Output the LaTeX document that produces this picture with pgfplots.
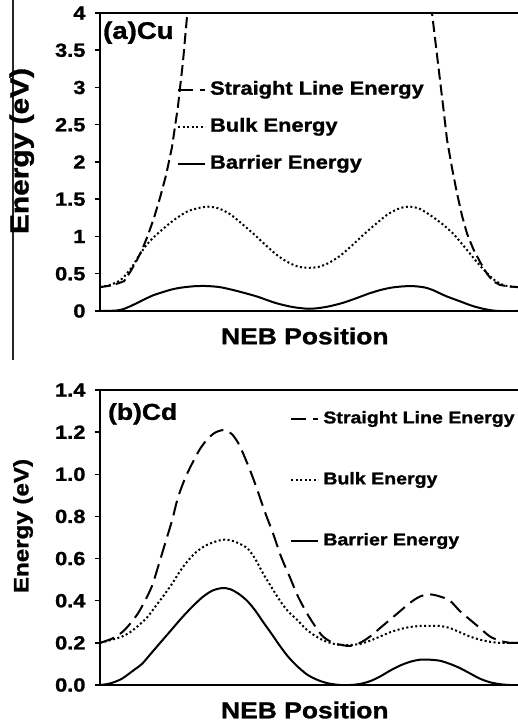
\documentclass[border=0pt]{standalone}
\usepackage{fontspec}
\setmainfont{Liberation Sans}[FakeStretch=1.15, BoldFeatures={FakeBold=1.2}]
\usepackage{pgfplots}
\pgfplotsset{compat=1.18}
\pgfplotsset{
  myax/.style={
    scale only axis, width=418pt, xmin=100, xmax=518,
    axis x line*=box, axis y line*=left,
    xtick=\empty, tick align=outside,
    major tick length=5pt,
    axis line style={line width=1.8pt},
    every tick/.style={line width=1.5pt, black},
    ticklabel style={font=\fontsize{19}{21}\selectfont\bfseries},
    yticklabel style={xshift=-6pt},
    /pgf/number format/assume math mode=true,
    legend cell align=left,
    legend image code/.code={\draw[##1] (0pt,0pt) -- (27pt,0pt);},
  },
  curve/.style={line width=2pt, black},
}
\begin{document}
\begin{tikzpicture}[x=1pt,y=1pt]
\useasboundingbox (0,0) rectangle (518,726);
\draw[line width=1.2pt, black!85] (13,726) -- (13,366);

% ---------------- (a) Cu ----------------
\begin{axis}[myax, height=298pt, at={(100pt,415pt)}, anchor=south west,
  ymin=0, ymax=4, ytick distance=0.5,
  xlabel={\bfseries NEB Position},
  xlabel style={font=\fontsize{23}{25}\selectfont, at={(axis description cs:0.49,-0.084)}, anchor=center},
  ylabel={\bfseries Energy (eV)},
  ylabel style={font=\fontsize{26}{28}\selectfont, at={(axis description cs:-0.187,0.537)}, anchor=center, rotate=0},
  legend style={draw=none, fill=none, at={(axis description cs:0.184,0.777)}, anchor=north west,
    font=\fontsize{19}{22}\selectfont\bfseries, row sep=17pt, inner sep=0pt,
    nodes={inner sep=1pt, text height=14pt, text depth=4pt},
    /tikz/every odd column/.append style={column sep=3pt}},
]
\addlegendimage{curve, dash pattern=on 15pt off 7pt}
\addlegendentry{Straight Line Energy}
\addlegendimage{curve, dash pattern=on 2pt off 2.5pt}
\addlegendentry{Bulk Energy}
\addlegendimage{curve}
\addlegendentry{Barrier Energy}
\addplot[curve, dash pattern=on 11pt off 5pt, forget plot] coordinates {
(100,0.32) (110,0.34) (118,0.37) (124,0.40) (130,0.52) (136,0.66) (142,0.82) (148,1.02)
(154,1.25) (160,1.52) (166,1.82) (172,2.2) (178,2.75) (183,3.35) (187,3.95) (192,4.6)
(309,8) (428,4.6) (432,4.0) (436,3.55) (440,3.1) (444,2.65) (447,2.3) (452,1.92) (457,1.58)
(462,1.28) (467,1.04) (473,0.84) (480,0.66) (487,0.50) (493,0.40) (500,0.35) (508,0.33) (518,0.32)};
\addplot[curve, dash pattern=on 2pt off 2.5pt, smooth, forget plot] coordinates {
(100,0.32) (110,0.35) (120,0.41) (126,0.49) (132,0.59) (138,0.72) (145,0.86) (153,0.98)
(162,1.09) (170,1.18) (178,1.26) (188,1.34) (198,1.38) (207,1.40) (218,1.38) (230,1.30)
(242,1.17) (254,1.03) (266,0.88) (278,0.74) (290,0.64) (300,0.59) (309,0.58) (318,0.59)
(328,0.64) (340,0.74) (352,0.88) (364,1.03) (376,1.17) (388,1.30) (400,1.38) (410,1.40)
(420,1.37) (433,1.26) (443,1.16) (453,1.04) (462,0.90) (470,0.77) (478,0.64) (487,0.51)
(495,0.41) (503,0.35) (510,0.33) (518,0.32)};
\addplot[curve, smooth, forget plot] coordinates {
(100,0) (115,0.005) (122,0.02) (128,0.05) (136,0.10) (145,0.16) (153,0.21) (162,0.25)
(172,0.29) (182,0.315) (195,0.333) (207,0.335) (220,0.32) (232,0.285) (245,0.24) (258,0.19)
(275,0.11) (290,0.06) (301,0.038) (309,0.03) (318,0.038) (330,0.065) (343,0.11) (356,0.17)
(368,0.23) (380,0.28) (392,0.315) (405,0.332) (415,0.332) (425,0.315) (433,0.28) (446,0.20)
(460,0.13) (472,0.07) (483,0.03) (492,0.008) (500,0) (518,0)};
\node[anchor=west, inner sep=0pt, font=\fontsize{24}{26}\selectfont\bfseries] at (axis description cs:0.007,0.934) {(a)Cu};
\end{axis}

% ---------------- (b) Cd ----------------
\begin{axis}[myax, height=295pt, at={(100pt,41pt)}, anchor=south west,
  ymin=0, ymax=1.4, ytick distance=0.2,
  yticklabel style={/pgf/number format/.cd, fixed, fixed zerofill, precision=1},
  xlabel={\bfseries NEB Position},
  xlabel style={font=\fontsize{23}{25}\selectfont, at={(axis description cs:0.49,-0.085)}, anchor=center},
  ylabel={\bfseries Energy (eV)},
  ylabel style={font=\fontsize{21}{23}\selectfont, at={(axis description cs:-0.184,0.539)}, anchor=center, rotate=0},
  legend style={draw=none, fill=none, at={(axis description cs:0.455,0.935)}, anchor=north west,
    font=\fontsize{17}{20}\selectfont\bfseries, row sep=42pt, inner sep=0pt,
    nodes={inner sep=1pt, text height=13pt, text depth=4pt},
    /tikz/every odd column/.append style={column sep=3pt}},
]
\addlegendimage{curve, dash pattern=on 15pt off 7pt}
\addlegendentry{Straight Line Energy}
\addlegendimage{curve, dash pattern=on 2pt off 2.5pt}
\addlegendentry{Bulk Energy}
\addlegendimage{curve}
\addlegendentry{Barrier Energy}
\addplot[curve, dash pattern=on 15pt off 7pt, smooth, forget plot] coordinates {
(100,0.20) (112,0.22) (122,0.25) (130,0.29) (138,0.34) (145,0.40) (152,0.47) (158,0.56)
(165,0.67) (172,0.78) (178,0.89) (185,0.98) (192,1.05) (200,1.12) (208,1.17) (216,1.20)
(225,1.21) (232,1.19) (238,1.15) (243,1.10) (250,1.02) (257,0.93) (265,0.82) (273,0.72)
(281,0.61) (290,0.51) (298,0.42) (307,0.34) (315,0.28) (323,0.23) (333,0.20) (342,0.19)
(350,0.185) (360,0.20) (370,0.23) (380,0.27) (390,0.31) (400,0.35) (410,0.39) (420,0.42)
(430,0.43) (440,0.42) (450,0.40) (460,0.35) (470,0.31) (480,0.27) (490,0.23) (500,0.21)
(510,0.20) (518,0.20)};
\addplot[curve, dash pattern=on 2pt off 2.5pt, smooth, forget plot] coordinates {
(100,0.20) (112,0.215) (122,0.23) (130,0.25) (138,0.28) (147,0.32) (155,0.37) (163,0.42)
(172,0.48) (180,0.54) (188,0.59) (196,0.63) (205,0.66) (215,0.68) (225,0.69) (235,0.68)
(247,0.65) (255,0.60) (263,0.53) (272,0.46) (280,0.40) (288,0.35) (297,0.31) (305,0.27)
(313,0.24) (322,0.215) (330,0.20) (340,0.19) (350,0.19) (360,0.195) (370,0.21) (380,0.23)
(390,0.25) (400,0.265) (410,0.275) (420,0.28) (430,0.28) (440,0.28) (450,0.27) (460,0.25)
(470,0.23) (480,0.215) (490,0.205) (500,0.20) (518,0.20)};
\addplot[curve, smooth, forget plot] coordinates {
(100,0) (108,0.005) (115,0.015) (122,0.03) (128,0.05) (135,0.075) (142,0.10) (152,0.155)
(162,0.21) (172,0.265) (182,0.32) (192,0.37) (202,0.415) (212,0.447) (222,0.46) (230,0.455)
(238,0.435) (247,0.40) (255,0.355) (263,0.30) (272,0.24) (280,0.185) (288,0.135) (297,0.09)
(307,0.05) (317,0.025) (328,0.008) (340,0) (350,0) (360,0.005) (370,0.018) (380,0.04)
(390,0.068) (400,0.092) (410,0.11) (420,0.12) (430,0.12) (440,0.115) (450,0.10) (460,0.08)
(470,0.055) (480,0.03) (490,0.013) (500,0.004) (510,0) (518,0)};
\node[anchor=west, inner sep=0pt, font=\fontsize{23}{25}\selectfont\bfseries] at (axis description cs:0.019,0.919) {(b)Cd};
\end{axis}
\end{tikzpicture}
\end{document}
